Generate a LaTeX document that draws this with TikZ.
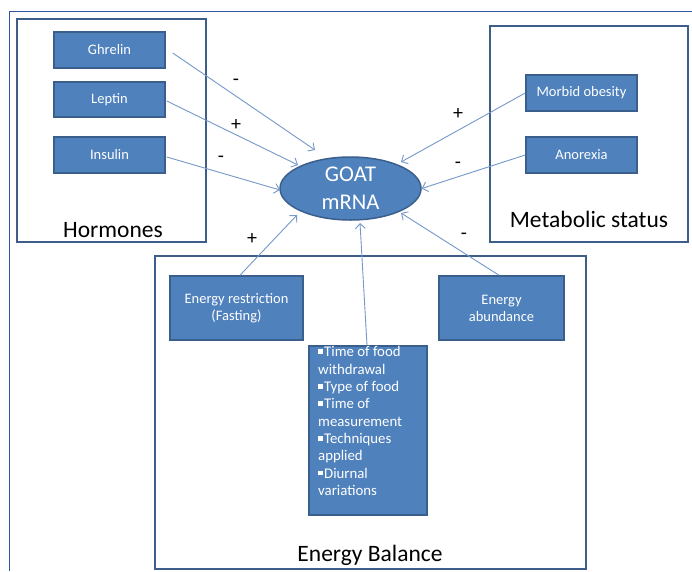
\documentclass[tikz,border=0pt]{standalone}
\usepackage{fontspec}
\setmainfont{Carlito}
\usetikzlibrary{arrows.meta,calc,shapes.geometric}
\definecolor{boxfill}{HTML}{4F81BD}
\definecolor{boxline}{HTML}{3A5F8C}
\definecolor{grpline}{HTML}{3C5E89}
\definecolor{arrowc}{HTML}{7598C9}
\definecolor{framec}{HTML}{2F55A4}
\newcommand\sqbul{\rule[3pt]{4.5pt}{4.5pt}\hspace{1.5pt}}
\begin{document}
\begin{tikzpicture}[x=1pt,y=-1pt,
 smallbox/.style={draw=boxline, line width=1.5pt, fill=boxfill, text=white, font=\fontsize{14.5}{17}\selectfont, align=center, inner sep=0pt},
 group/.style={draw=grpline, line width=2pt, inner sep=0pt},
 grplabel/.style={font=\fontsize{23.5}{27}\selectfont, text=black, anchor=base, inner sep=0pt},
 bullettext/.style={font=\fontsize{14.8}{17}\selectfont, text=white, anchor=base west, inner sep=0pt},
 sign/.style={font=\fontsize{20}{22}\selectfont, inner sep=0pt},
 conn/.style={draw=arrowc, line width=0.9pt, -{Straight Barb[length=5pt,width=10pt]}}]
\useasboundingbox (0,0) rectangle (692,571);
\fill[white] (0,0) rectangle (692,571);
\draw[framec, line width=1pt] (9,571) -- (9,11) -- (692,11);

% group boxes
\node[group, minimum width=189, minimum height=223] (hormones) at (111.5,130.5) {};
\node[group, minimum width=198, minimum height=216] (metabolic) at (589,134) {};
\node[group, minimum width=431, minimum height=313] (energy) at (370.5,412.5) {};

% small boxes
\node[smallbox, minimum width=111, minimum height=36] (ghrelin) at (109.5,50) {Ghrelin};
\node[smallbox, minimum width=111, minimum height=35] (leptin) at (109.5,99.5) {Leptin};
\node[smallbox, minimum width=111, minimum height=36] (insulin) at (109.5,155) {Insulin};
\node[smallbox, minimum width=111, minimum height=36] (morbid) at (581.5,93) {Morbid obesity};
\node[smallbox, minimum width=111, minimum height=36] (anorexia) at (581.5,155) {Anorexia};
\node[smallbox, minimum width=133, minimum height=64] (restriction) at (236.5,308) {Energy restriction\\(Fasting)};
\node[smallbox, minimum width=125, minimum height=64] (abundance) at (501.5,308) {Energy\\abundance};
\node[smallbox, minimum width=118, minimum height=169] (bullets) at (368,430.5) {};

% bullet text
\foreach \t [count=\k from 0] in {\sqbul Time of food, withdrawal, \sqbul Type of food, \sqbul Time of, measurement, \sqbul Techniques, applied, \sqbul Diurnal, variations}
  \node[bullettext] (bl\k) at (318,356.8+17.35*\k) {\t};

% ellipse
\node[ellipse, draw=boxline, line width=1.5pt, fill=boxfill, text=white, minimum width=141, minimum height=63, inner sep=0pt, align=center, font=\fontsize{22.5}{28}\selectfont] (goat) at (350.5,188.5) {GOAT\\mRNA};

% connectors
\draw[conn] ($(ghrelin.east)+(7,3)$) -- ($(goat.center)+(-35.5,-38.5)$);
\draw[conn] ($(leptin.east)+(1,1.5)$) -- ($(goat.center)+(-52.5,-23.5)$);
\draw[conn] ($(insulin.east)+(1,2)$) -- ($(goat.center)+(-70.5,1.5)$);
\draw[conn] ($(restriction.north)+(3.5,0)$) -- ($(goat.center)+(-53.5,26.5)$);
\draw[conn] ($(bullets.north)+(-1,0)$) -- ($(goat.center)+(9.5,34.5)$);
\draw[conn] ($(abundance.north)+(-2.5,0)$) -- ($(goat.center)+(50.5,24.5)$);
\draw[conn] (morbid.west) -- ($(goat.center)+(50.5,-26.5)$);
\draw[conn] (anorexia.west) -- (goat.east);

% signs
\node[sign] (s1) at (236,82) {-};
\node[sign] (s2) at (236,124.5) {+};
\node[sign] (s3) at (221,159.5) {-};
\node[sign] (s4) at (252,238.5) {+};
\node[sign] (s5) at (458,113.5) {+};
\node[sign] (s6) at (458,165.5) {-};
\node[sign] (s7) at (464,236.5) {-};

% group labels
\node[grplabel] (lh) at (113,237) {Hormones};
\node[grplabel] (lm) at (589,227) {Metabolic status};
\node[grplabel] (le) at (370,561.5) {Energy Balance};
\end{tikzpicture}
\end{document}
